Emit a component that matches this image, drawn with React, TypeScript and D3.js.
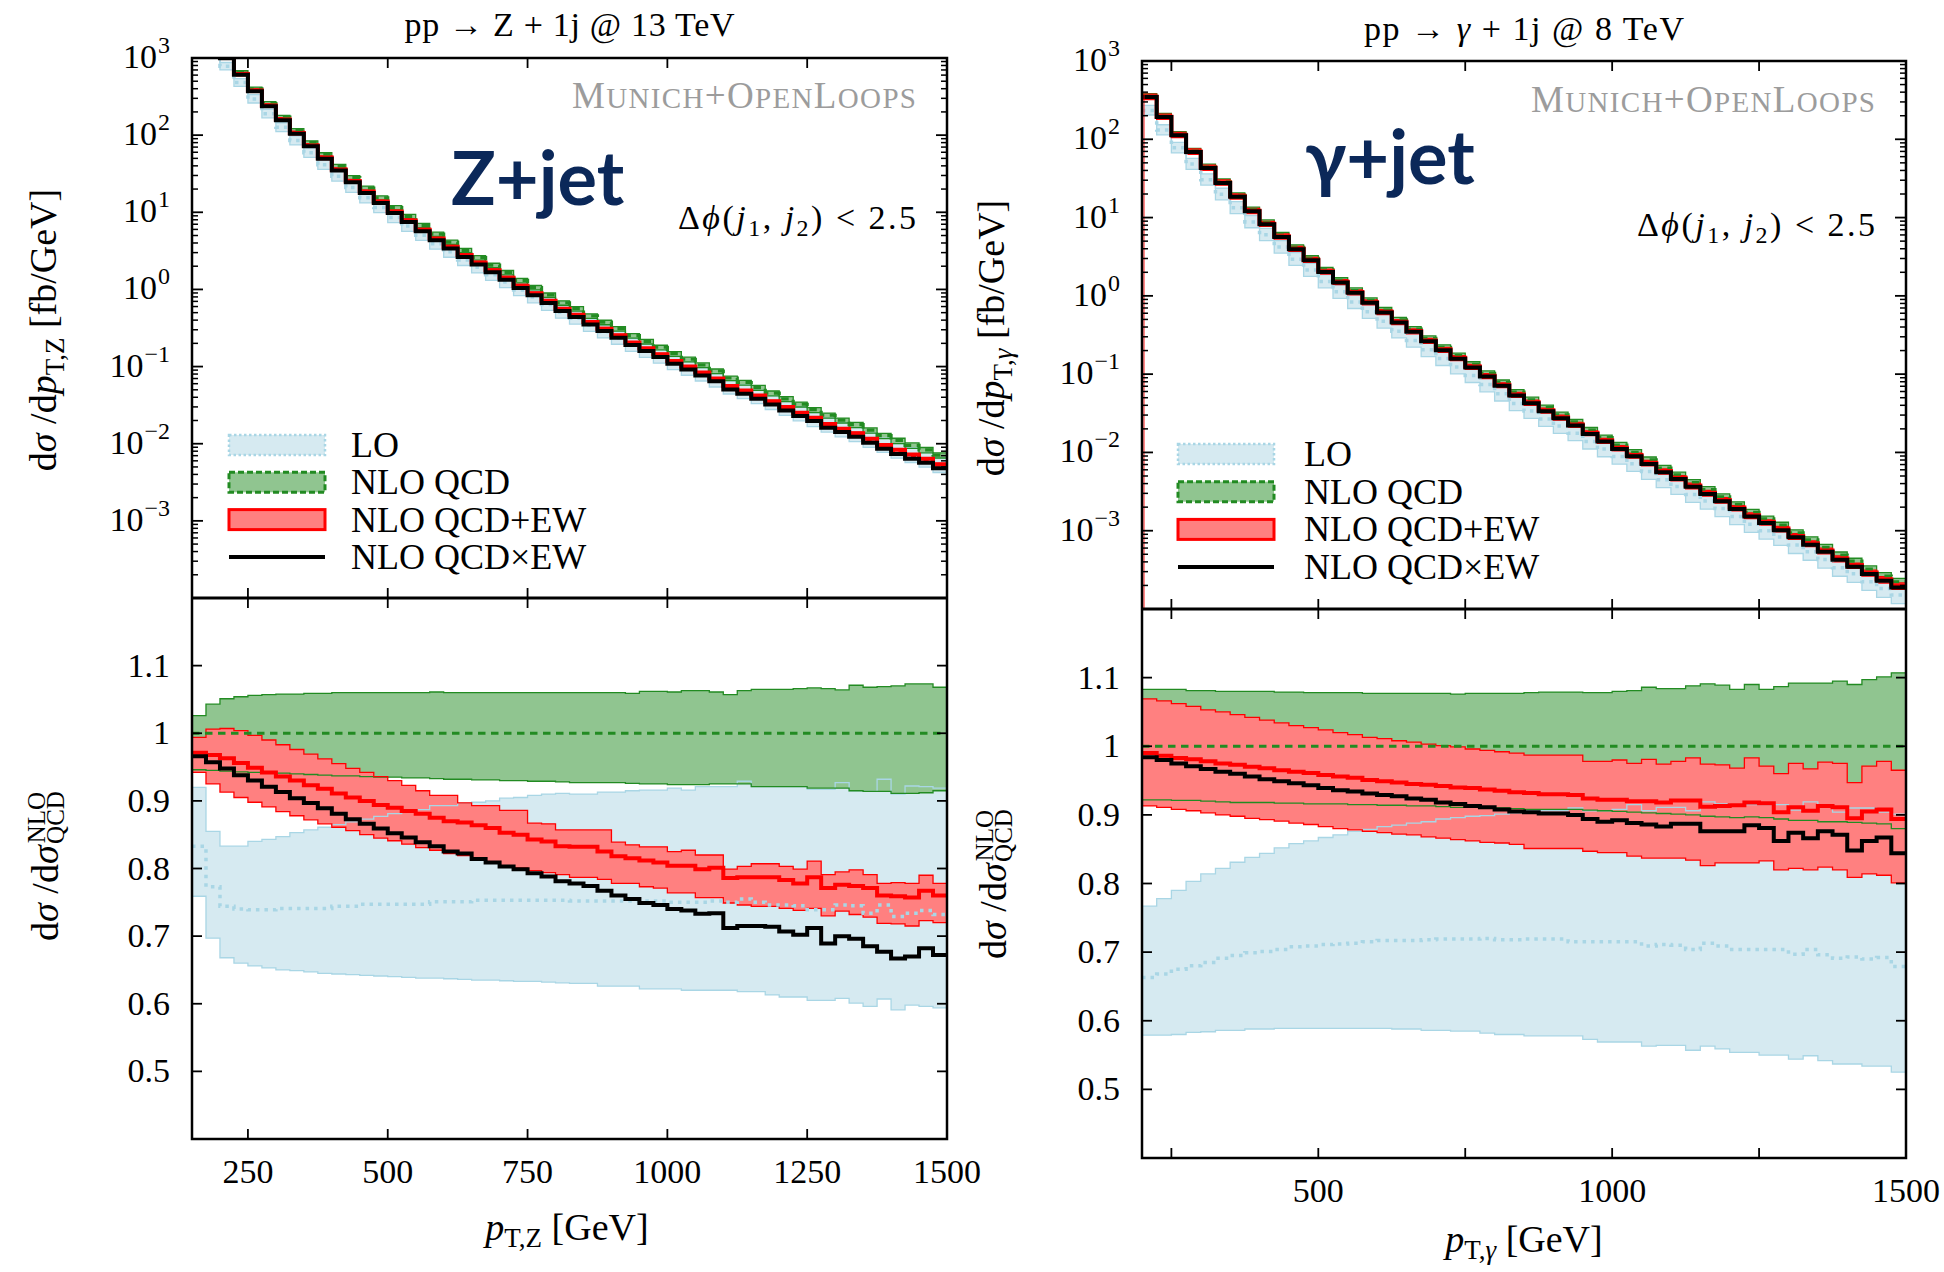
import React from "react";
import * as d3 from "d3";

// ---------- Z + jet @ 13 TeV, 25 GeV bins from 150 to 1500 ----------
const zEdges = d3.range(150, 1525, 25);
// NLO QCD central value [fb/GeV] (first two bins run off the top of the frame)
const zNloQcd = [2600, 1700, 1050, 648, 398, 257, 171, 115, 79.8, 55.8, 39.4, 28.1, 20.6, 15.4, 11.5, 8.87, 6.76, 5.21, 4.10, 3.21, 2.58, 2.06, 1.66, 1.31, 1.06, 0.848, 0.672, 0.563, 0.455, 0.376, 0.311, 0.252, 0.212, 0.178, 0.147, 0.1245, 0.1048, 0.0876, 0.0711, 0.0622, 0.0535, 0.0453, 0.0382, 0.0325, 0.0276, 0.0234, 0.0202, 0.0177, 0.0150, 0.0127, 0.0110, 0.00954, 0.00833, 0.00713];
// everything below is a ratio to NLO QCD
const zQcdUp = [1.026, 1.043, 1.051, 1.054, 1.056, 1.057, 1.058, 1.058, 1.059, 1.059, 1.060, 1.060, 1.060, 1.060, 1.060, 1.060, 1.060, 1.061, 1.060, 1.060, 1.060, 1.060, 1.060, 1.060, 1.060, 1.060, 1.060, 1.060, 1.060, 1.060, 1.060, 1.059, 1.062, 1.062, 1.061, 1.063, 1.063, 1.061, 1.057, 1.063, 1.065, 1.065, 1.065, 1.066, 1.067, 1.066, 1.064, 1.071, 1.068, 1.069, 1.070, 1.073, 1.073, 1.068];
const zQcdLow = [0.946, 0.945, 0.944, 0.943, 0.942, 0.941, 0.941, 0.940, 0.939, 0.938, 0.937, 0.937, 0.936, 0.935, 0.935, 0.934, 0.934, 0.933, 0.932, 0.932, 0.931, 0.931, 0.930, 0.930, 0.929, 0.929, 0.928, 0.927, 0.927, 0.927, 0.927, 0.926, 0.925, 0.925, 0.924, 0.924, 0.924, 0.925, 0.925, 0.925, 0.921, 0.921, 0.921, 0.921, 0.919, 0.919, 0.919, 0.915, 0.914, 0.914, 0.911, 0.911, 0.912, 0.915];
const zLoUp = [0.920, 0.855, 0.833, 0.833, 0.840, 0.843, 0.847, 0.853, 0.857, 0.861, 0.865, 0.869, 0.873, 0.877, 0.881, 0.884, 0.887, 0.893, 0.893, 0.897, 0.898, 0.900, 0.904, 0.905, 0.908, 0.910, 0.911, 0.910, 0.910, 0.913, 0.913, 0.915, 0.916, 0.916, 0.919, 0.916, 0.921, 0.921, 0.921, 0.929, 0.921, 0.921, 0.921, 0.921, 0.917, 0.917, 0.927, 0.915, 0.914, 0.932, 0.910, 0.922, 0.921, 0.919];
const zLoLow = [0.759, 0.697, 0.668, 0.660, 0.656, 0.653, 0.650, 0.649, 0.647, 0.645, 0.644, 0.643, 0.642, 0.641, 0.640, 0.639, 0.638, 0.638, 0.637, 0.636, 0.635, 0.635, 0.634, 0.633, 0.633, 0.632, 0.631, 0.630, 0.630, 0.626, 0.626, 0.626, 0.622, 0.622, 0.622, 0.620, 0.620, 0.620, 0.620, 0.618, 0.618, 0.613, 0.610, 0.610, 0.605, 0.605, 0.608, 0.601, 0.596, 0.607, 0.591, 0.598, 0.596, 0.594];
const zLoCen = [0.833, 0.773, 0.744, 0.740, 0.739, 0.739, 0.741, 0.741, 0.741, 0.741, 0.744, 0.744, 0.747, 0.747, 0.747, 0.747, 0.747, 0.751, 0.751, 0.751, 0.753, 0.753, 0.753, 0.753, 0.753, 0.753, 0.753, 0.752, 0.752, 0.752, 0.752, 0.752, 0.752, 0.752, 0.750, 0.750, 0.750, 0.752, 0.750, 0.755, 0.750, 0.746, 0.746, 0.745, 0.739, 0.739, 0.746, 0.745, 0.734, 0.746, 0.729, 0.734, 0.738, 0.732];
const zAddUp = [0.994, 1.006, 1.007, 1.004, 0.997, 0.990, 0.983, 0.976, 0.969, 0.962, 0.955, 0.948, 0.942, 0.936, 0.930, 0.923, 0.915, 0.908, 0.908, 0.897, 0.893, 0.893, 0.886, 0.886, 0.867, 0.866, 0.857, 0.857, 0.857, 0.857, 0.839, 0.835, 0.832, 0.832, 0.825, 0.827, 0.820, 0.820, 0.799, 0.803, 0.807, 0.807, 0.803, 0.799, 0.811, 0.791, 0.795, 0.798, 0.791, 0.778, 0.779, 0.778, 0.790, 0.778];
const zAddCen = [0.971, 0.968, 0.963, 0.956, 0.949, 0.942, 0.936, 0.930, 0.923, 0.918, 0.911, 0.905, 0.900, 0.894, 0.890, 0.885, 0.881, 0.875, 0.870, 0.868, 0.864, 0.860, 0.853, 0.850, 0.843, 0.840, 0.833, 0.832, 0.832, 0.825, 0.818, 0.815, 0.812, 0.809, 0.804, 0.804, 0.799, 0.801, 0.786, 0.787, 0.787, 0.787, 0.783, 0.778, 0.787, 0.771, 0.776, 0.774, 0.771, 0.760, 0.759, 0.757, 0.767, 0.760];
const zAddLow = [0.942, 0.925, 0.913, 0.905, 0.898, 0.891, 0.884, 0.878, 0.872, 0.866, 0.861, 0.856, 0.850, 0.845, 0.841, 0.836, 0.831, 0.827, 0.822, 0.819, 0.815, 0.809, 0.803, 0.801, 0.797, 0.794, 0.791, 0.787, 0.787, 0.784, 0.778, 0.778, 0.773, 0.771, 0.764, 0.764, 0.757, 0.757, 0.749, 0.746, 0.744, 0.744, 0.741, 0.738, 0.741, 0.730, 0.737, 0.732, 0.728, 0.719, 0.718, 0.715, 0.723, 0.720];
const zMult = [0.966, 0.957, 0.948, 0.938, 0.930, 0.921, 0.913, 0.904, 0.897, 0.889, 0.881, 0.873, 0.866, 0.859, 0.852, 0.846, 0.839, 0.833, 0.825, 0.822, 0.814, 0.809, 0.803, 0.799, 0.793, 0.788, 0.781, 0.778, 0.774, 0.767, 0.760, 0.755, 0.749, 0.746, 0.740, 0.738, 0.733, 0.734, 0.712, 0.715, 0.715, 0.714, 0.707, 0.702, 0.712, 0.689, 0.700, 0.696, 0.685, 0.677, 0.667, 0.670, 0.682, 0.672];

// ---------- gamma + jet @ 8 TeV, 25 GeV bins from 200 to 1500 ----------
const gEdges = d3.range(200, 1525, 25);
const gNloQcd = [353, 197, 115.4, 71.0, 44.5, 28.8, 19.2, 12.6, 8.63, 5.97, 4.16, 3.02, 2.15, 1.58, 1.17, 0.874, 0.659, 0.493, 0.376, 0.286, 0.220, 0.172, 0.1336, 0.1021, 0.0782, 0.0589, 0.0471, 0.0373, 0.0303, 0.0245, 0.0193, 0.01547, 0.01243, 0.01006, 0.00805, 0.00631, 0.00516, 0.00412, 0.00336, 0.00271, 0.00216, 0.00172, 0.00142, 0.00118, 0.000941, 0.000764, 0.000614, 0.000488, 0.000408, 0.000324, 0.000264, 0.000223];
const gQcdUp = [1.083, 1.083, 1.083, 1.081, 1.081, 1.080, 1.080, 1.080, 1.080, 1.079, 1.079, 1.078, 1.078, 1.078, 1.078, 1.077, 1.077, 1.077, 1.077, 1.077, 1.077, 1.076, 1.077, 1.077, 1.077, 1.077, 1.078, 1.079, 1.079, 1.079, 1.078, 1.078, 1.080, 1.081, 1.086, 1.084, 1.084, 1.088, 1.091, 1.089, 1.083, 1.090, 1.083, 1.087, 1.092, 1.092, 1.092, 1.095, 1.090, 1.097, 1.101, 1.107];
const gQcdLow = [0.922, 0.922, 0.921, 0.921, 0.920, 0.919, 0.918, 0.918, 0.918, 0.917, 0.917, 0.916, 0.916, 0.916, 0.915, 0.915, 0.914, 0.914, 0.913, 0.913, 0.912, 0.911, 0.911, 0.910, 0.910, 0.909, 0.908, 0.908, 0.908, 0.908, 0.907, 0.906, 0.905, 0.904, 0.903, 0.902, 0.901, 0.900, 0.898, 0.897, 0.896, 0.897, 0.896, 0.894, 0.892, 0.892, 0.890, 0.890, 0.889, 0.888, 0.887, 0.880];
const gLoUp = [0.767, 0.778, 0.790, 0.803, 0.814, 0.822, 0.831, 0.838, 0.844, 0.852, 0.858, 0.862, 0.867, 0.871, 0.876, 0.879, 0.883, 0.885, 0.888, 0.890, 0.894, 0.896, 0.898, 0.899, 0.901, 0.903, 0.906, 0.906, 0.906, 0.910, 0.906, 0.906, 0.908, 0.915, 0.906, 0.911, 0.911, 0.906, 0.919, 0.916, 0.915, 0.915, 0.915, 0.915, 0.907, 0.919, 0.911, 0.904, 0.910, 0.910, 0.904, 0.901];
const gLoLow = [0.579, 0.579, 0.580, 0.583, 0.584, 0.586, 0.586, 0.588, 0.588, 0.589, 0.589, 0.589, 0.589, 0.589, 0.589, 0.589, 0.589, 0.588, 0.588, 0.586, 0.586, 0.585, 0.585, 0.582, 0.580, 0.580, 0.578, 0.578, 0.578, 0.578, 0.573, 0.569, 0.569, 0.569, 0.563, 0.564, 0.564, 0.557, 0.563, 0.559, 0.554, 0.554, 0.550, 0.550, 0.544, 0.549, 0.542, 0.537, 0.537, 0.534, 0.534, 0.525];
const gLoCen = [0.663, 0.668, 0.675, 0.680, 0.685, 0.691, 0.695, 0.699, 0.701, 0.704, 0.708, 0.709, 0.711, 0.712, 0.713, 0.715, 0.717, 0.717, 0.717, 0.718, 0.719, 0.719, 0.719, 0.720, 0.718, 0.718, 0.719, 0.719, 0.719, 0.715, 0.715, 0.715, 0.715, 0.715, 0.709, 0.711, 0.710, 0.704, 0.713, 0.709, 0.704, 0.704, 0.704, 0.704, 0.697, 0.704, 0.696, 0.691, 0.693, 0.690, 0.692, 0.679];
const gAddUp = [1.069, 1.066, 1.062, 1.058, 1.053, 1.050, 1.046, 1.042, 1.038, 1.034, 1.030, 1.027, 1.024, 1.020, 1.017, 1.013, 1.011, 1.008, 1.006, 1.003, 1.001, 0.999, 0.996, 0.994, 0.992, 0.990, 0.987, 0.987, 0.987, 0.987, 0.978, 0.978, 0.980, 0.975, 0.981, 0.974, 0.978, 0.983, 0.974, 0.973, 0.968, 0.983, 0.971, 0.960, 0.975, 0.967, 0.977, 0.975, 0.947, 0.971, 0.978, 0.965];
const gAddCen = [0.990, 0.986, 0.983, 0.981, 0.978, 0.975, 0.973, 0.970, 0.968, 0.965, 0.963, 0.961, 0.958, 0.956, 0.954, 0.951, 0.949, 0.947, 0.945, 0.944, 0.942, 0.940, 0.939, 0.937, 0.935, 0.933, 0.932, 0.930, 0.930, 0.929, 0.924, 0.922, 0.922, 0.920, 0.920, 0.918, 0.921, 0.921, 0.912, 0.913, 0.914, 0.918, 0.917, 0.904, 0.911, 0.906, 0.913, 0.911, 0.895, 0.905, 0.908, 0.894];
const gAddLow = [0.913, 0.911, 0.908, 0.906, 0.903, 0.900, 0.898, 0.895, 0.893, 0.891, 0.888, 0.886, 0.883, 0.880, 0.878, 0.876, 0.874, 0.872, 0.871, 0.868, 0.866, 0.864, 0.862, 0.860, 0.859, 0.857, 0.851, 0.851, 0.851, 0.851, 0.847, 0.845, 0.845, 0.840, 0.837, 0.837, 0.837, 0.834, 0.826, 0.830, 0.830, 0.830, 0.833, 0.820, 0.822, 0.820, 0.824, 0.820, 0.809, 0.814, 0.812, 0.801];
const gMult = [0.984, 0.980, 0.975, 0.971, 0.967, 0.963, 0.960, 0.956, 0.952, 0.949, 0.946, 0.943, 0.939, 0.936, 0.934, 0.931, 0.929, 0.927, 0.924, 0.922, 0.918, 0.916, 0.913, 0.911, 0.908, 0.905, 0.904, 0.902, 0.902, 0.900, 0.894, 0.890, 0.892, 0.888, 0.886, 0.883, 0.887, 0.887, 0.876, 0.876, 0.876, 0.885, 0.881, 0.862, 0.874, 0.866, 0.876, 0.871, 0.848, 0.862, 0.867, 0.844];

// axis ticks
const zXTicks = [250, 500, 750, 1000, 1250, 1500];
const zXLabels = [250, 500, 750, 1000, 1250, 1500];
const gXTicks = [250, 500, 750, 1000, 1250, 1500];
const gXLabels = [500, 1000, 1500];
const ratioTicks = [0.5, 0.6, 0.7, 0.8, 0.9, 1, 1.1];
const logExps = [-3, -2, -1, 0, 1, 2, 3];
const legendNames = ["LO", "NLO QCD", "NLO QCD+EW", "NLO QCD×EW"];

const SERIF = '"Liberation Serif", "Times New Roman", "DejaVu Serif", serif';
const LO_FILL = "#d6eaf1";
const LO_LINE = "#a9d6e5";
const QCD_FILL = "#90c590";
const QCD_LINE = "#228b22";
const ADD_FILL = "#ff8080";
const ADD_LINE = "#ff0000";

function stepPts(edges: number[], vals: number[]): [number, number][] {
  const pts: [number, number][] = vals.map((v, i) => [edges[i], v]);
  pts.push([edges[vals.length], vals[vals.length - 1]]);
  return pts;
}

function bandPts(edges: number[], lo: number[], hi: number[]): [number, number, number][] {
  const pts: [number, number, number][] = lo.map((v, i) => [edges[i], v, hi[i]]);
  pts.push([edges[lo.length], lo[lo.length - 1], hi[hi.length - 1]]);
  return pts;
}

type Series = {
  loLow: number[]; loCen: number[]; loUp: number[];
  qcdLow: number[]; qcdCen: number[]; qcdUp: number[];
  addLow: number[]; addCen: number[]; addUp: number[];
  mult: number[];
};

function Layers({ edges, s, x, y, clip }: { edges: number[]; s: Series; x: any; y: any; clip: string }) {
  const line = d3.line<[number, number]>().x(d => x(d[0])).y(d => y(d[1])).curve(d3.curveStepAfter);
  const area = d3.area<[number, number, number]>().x(d => x(d[0])).y0(d => y(d[1])).y1(d => y(d[2])).curve(d3.curveStepAfter);
  const thin = (vals: number[], c: string) => (
    <path d={line(stepPts(edges, vals)) || ""} fill="none" stroke={c} strokeWidth={1.3} />
  );
  return (
    <g clipPath={`url(#${clip})`}>
      <path d={area(bandPts(edges, s.loLow, s.loUp)) || ""} fill={LO_FILL} />
      <path d={area(bandPts(edges, s.qcdLow, s.qcdUp)) || ""} fill={QCD_FILL} />
      <path d={area(bandPts(edges, s.addLow, s.addUp)) || ""} fill={ADD_FILL} />
      {thin(s.loLow, LO_LINE)}
      {thin(s.loUp, LO_LINE)}
      {thin(s.qcdLow, QCD_LINE)}
      {thin(s.qcdUp, QCD_LINE)}
      {thin(s.addLow, ADD_LINE)}
      {thin(s.addUp, ADD_LINE)}
      <path d={line(stepPts(edges, s.loCen)) || ""} fill="none" stroke={LO_LINE} strokeWidth={3.5} strokeDasharray="3.5 5" />
      <path d={line(stepPts(edges, s.qcdCen)) || ""} fill="none" stroke={QCD_LINE} strokeWidth={3.2} strokeDasharray="7.5 5.5" />
      <path d={line(stepPts(edges, s.addCen)) || ""} fill="none" stroke={ADD_LINE} strokeWidth={4} />
      <path d={line(stepPts(edges, s.mult)) || ""} fill="none" stroke="#000" strokeWidth={4} />
    </g>
  );
}

type PanelProps = {
  id: string;
  edges: number[]; nlo: number[];
  loLow: number[]; loCen: number[]; loUp: number[];
  qcdLow: number[]; qcdUp: number[];
  addLow: number[]; addCen: number[]; addUp: number[];
  mult: number[];
  x0: number; x1: number; yTop: number; yMid: number; yBot: number;
  xDomain: [number, number]; xTicks: number[]; xLabels: number[];
  title: React.ReactNode; titleY: number; titleLen: number;
  boson: string; bosonX: number; bosonY: number;
  munichY: number; cutY: number;
  yLabelX: number; yLabelY: number; rLabelY: number;
  xLabelX: number; xLabelY: number; sub: React.ReactNode;
  legX: number; legY: number; legGap: number; legTextX: number;
  edgeLine: boolean;
};

function Panel(p: PanelProps) {
  const x = d3.scaleLinear().domain(p.xDomain).range([p.x0, p.x1]);
  const yT = d3.scaleLog().domain([1e-4, 1e3]).range([p.yMid, p.yTop]);
  const yR = d3.scaleLinear().domain([0.4, 1.2]).range([p.yBot, p.yMid]);

  const ones = p.nlo.map(() => 1);
  const ratio: Series = {
    loLow: p.loLow, loCen: p.loCen, loUp: p.loUp,
    qcdLow: p.qcdLow, qcdCen: ones, qcdUp: p.qcdUp,
    addLow: p.addLow, addCen: p.addCen, addUp: p.addUp, mult: p.mult,
  };
  const abs = (r: number[]) => r.map((v, i) => v * p.nlo[i]);
  const top: Series = {
    loLow: abs(p.loLow), loCen: abs(p.loCen), loUp: abs(p.loUp),
    qcdLow: abs(p.qcdLow), qcdCen: p.nlo, qcdUp: abs(p.qcdUp),
    addLow: abs(p.addLow), addCen: abs(p.addCen), addUp: abs(p.addUp), mult: abs(p.mult),
  };

  const minor: number[] = [];
  for (let e = -4; e < 3; e++) for (let m = 2; m < 10; m++) minor.push(m * Math.pow(10, e));
  const W = p.x1 - p.x0;

  return (
    <g fontFamily={SERIF}>
      <defs>
        <clipPath id={`${p.id}-top`}><rect x={p.x0} y={p.yTop} width={W} height={p.yMid - p.yTop} /></clipPath>
        <clipPath id={`${p.id}-rat`}><rect x={p.x0} y={p.yMid} width={W} height={p.yBot - p.yMid} /></clipPath>
      </defs>

      <Layers edges={p.edges} s={top} x={x} y={yT} clip={`${p.id}-top`} />
      <Layers edges={p.edges} s={ratio} x={x} y={yR} clip={`${p.id}-rat`} />
      {p.edgeLine && (
        <line x1={p.x0 + 2} x2={p.x0 + 2} y1={p.yMid} y2={yT(top.addUp[0])} stroke={ADD_LINE} strokeWidth={1.3} opacity={0.7} />
      )}

      {/* log y ticks */}
      {minor.map(v => (
        <g key={`mn${v}`} stroke="#000" strokeWidth={1.5}>
          <line x1={p.x0} x2={p.x0 + 6} y1={yT(v)} y2={yT(v)} />
          <line x1={p.x1} x2={p.x1 - 6} y1={yT(v)} y2={yT(v)} />
        </g>
      ))}
      {logExps.map(e => (
        <g key={`lg${e}`}>
          <line x1={p.x0} x2={p.x0 + 11} y1={yT(Math.pow(10, e))} y2={yT(Math.pow(10, e))} stroke="#000" strokeWidth={1.8} />
          <line x1={p.x1} x2={p.x1 - 11} y1={yT(Math.pow(10, e))} y2={yT(Math.pow(10, e))} stroke="#000" strokeWidth={1.8} />
          <text x={p.x0 - 22} y={yT(Math.pow(10, e)) + 10} textAnchor="end" fontSize={34}>
            10<tspan dx={1} dy={-15} fontSize={24}>{e < 0 ? `−${-e}` : `${e}`}</tspan>
          </text>
        </g>
      ))}

      {/* ratio y ticks */}
      {ratioTicks.map(v => (
        <g key={`rt${v}`}>
          <line x1={p.x0} x2={p.x0 + 10} y1={yR(v)} y2={yR(v)} stroke="#000" strokeWidth={1.8} />
          <line x1={p.x1} x2={p.x1 - 10} y1={yR(v)} y2={yR(v)} stroke="#000" strokeWidth={1.8} />
          <text x={p.x0 - 22} y={yR(v) + 11} textAnchor="end" fontSize={34}>{d3.format("")(v)}</text>
        </g>
      ))}

      {/* x ticks on every horizontal frame line */}
      {p.xTicks.map(v => (
        <g key={`xt${v}`} stroke="#000" strokeWidth={1.8}>
          <line x1={x(v)} x2={x(v)} y1={p.yTop} y2={p.yTop + 10} />
          <line x1={x(v)} x2={x(v)} y1={p.yMid - 10} y2={p.yMid + 10} />
          <line x1={x(v)} x2={x(v)} y1={p.yBot} y2={p.yBot - 10} />
        </g>
      ))}
      {p.xLabels.map(v => (
        <text key={`xl${v}`} x={x(v)} y={p.yBot + 44} textAnchor="middle" fontSize={34}>{v}</text>
      ))}

      {/* frames */}
      <rect x={p.x0} y={p.yTop} width={W} height={p.yBot - p.yTop} fill="none" stroke="#000" strokeWidth={2.5} />
      <line x1={p.x0} x2={p.x1} y1={p.yMid} y2={p.yMid} stroke="#000" strokeWidth={3} />

      {/* titles and annotations */}
      <text x={(p.x0 + p.x1) / 2 - p.titleLen / 2} y={p.titleY} fontSize={34} textLength={p.titleLen} lengthAdjust="spacing">{p.title}</text>
      <text x={p.x1 - 31} y={p.munichY} textAnchor="end" fill="#9c9c9c" fontSize={37} textLength={344} lengthAdjust="spacing">
        M<tspan fontSize={29}>UNICH</tspan>+O<tspan fontSize={29}>PEN</tspan>L<tspan fontSize={29}>OOPS</tspan>
      </text>
      <text x={p.bosonX} y={p.bosonY} fontFamily="Lato, 'Open Sans', sans-serif" fontWeight={700} fontSize={74} fill="#0b2859">{p.boson}</text>
      <text x={p.x1 - 31} y={p.cutY} textAnchor="end" fontSize={34} textLength={238} lengthAdjust="spacing">
        Δ<tspan fontStyle="italic">ϕ</tspan>(<tspan fontStyle="italic">j</tspan><tspan fontSize={24} dy={7}>1</tspan><tspan dy={-7}>, </tspan>
        <tspan fontStyle="italic">j</tspan><tspan fontSize={24} dy={7}>2</tspan><tspan dy={-7}>) &lt; 2.5</tspan>
      </text>

      {/* axis titles */}
      <g transform={`translate(${p.yLabelX},${p.yLabelY}) rotate(-90)`}>
        <text textAnchor="middle" fontSize={38}>
          d<tspan fontStyle="italic">σ</tspan> /d<tspan fontStyle="italic">p</tspan>
          <tspan fontSize={27} dy={8}>{p.sub}</tspan><tspan dy={-8}> [fb/GeV]</tspan>
        </text>
      </g>
      <g transform={`translate(${p.yLabelX + 2},${p.rLabelY}) rotate(-90)`}>
        <text textAnchor="middle" fontSize={38}>
          d<tspan fontStyle="italic">σ</tspan> /d<tspan fontStyle="italic">σ</tspan>
          <tspan fontSize={25} dx={2} dy={-13}>NLO</tspan><tspan fontSize={25} dx={-52} dy={19}>QCD</tspan>
        </text>
      </g>
      <text x={p.xLabelX} y={p.xLabelY} textAnchor="middle" fontSize={38}>
        <tspan fontStyle="italic">p</tspan><tspan fontSize={27} dy={7}>{p.sub}</tspan><tspan dy={-7}> [GeV]</tspan>
      </text>

      {/* legend */}
      {legendNames.map((name, i) => {
        const cy = p.legY + i * p.legGap;
        return (
          <g key={name}>
            {i === 0 && <rect x={p.legX} y={cy - 10} width={96} height={20} fill={LO_FILL} stroke={LO_LINE} strokeWidth={2.5} strokeDasharray="2.5 2.5" />}
            {i === 1 && <rect x={p.legX} y={cy - 10} width={96} height={20} fill={QCD_FILL} stroke={QCD_LINE} strokeWidth={3} strokeDasharray="6 3" />}
            {i === 2 && <rect x={p.legX} y={cy - 10} width={96} height={20} fill={ADD_FILL} stroke={ADD_LINE} strokeWidth={3} />}
            {i === 3 && <line x1={p.legX} x2={p.legX + 96} y1={cy} y2={cy} stroke="#000" strokeWidth={4} />}
            <text x={p.legTextX} y={cy + 12} fontSize={36}>{name}</text>
          </g>
        );
      })}
    </g>
  );
}

export default function App() {
  return (
    <div style={{ position: "absolute", left: 0, top: 0 }}>
      <svg width={1944} height={1272} style={{ display: "block", background: "#fff" }}>
        <Panel
          id="zj" edges={zEdges} nlo={zNloQcd}
          loLow={zLoLow} loCen={zLoCen} loUp={zLoUp}
          qcdLow={zQcdLow} qcdUp={zQcdUp}
          addLow={zAddLow} addCen={zAddCen} addUp={zAddUp} mult={zMult}
          x0={192} x1={947} yTop={58} yMid={598} yBot={1139}
          xDomain={[150, 1500]} xTicks={zXTicks} xLabels={zXLabels}
          title={<>pp → Z + 1j @ 13 TeV</>} titleY={36} titleLen={330}
          boson="Z+jet" bosonX={451} bosonY={205}
          munichY={108} cutY={229}
          yLabelX={56} yLabelY={330} rLabelY={866}
          xLabelX={567} xLabelY={1240} sub="T,Z"
          legX={229} legY={445} legGap={37.3} legTextX={351}
          edgeLine={false}
        />
        <Panel
          id="gj" edges={gEdges} nlo={gNloQcd}
          loLow={gLoLow} loCen={gLoCen} loUp={gLoUp}
          qcdLow={gQcdLow} qcdUp={gQcdUp}
          addLow={gAddLow} addCen={gAddCen} addUp={gAddUp} mult={gMult}
          x0={1142} x1={1906} yTop={61} yMid={609} yBot={1158}
          xDomain={[200, 1500]} xTicks={gXTicks} xLabels={gXLabels}
          title={<>pp → <tspan fontStyle="italic">γ</tspan> + 1j @ 8 TeV</>} titleY={40} titleLen={320}
          boson="γ+jet" bosonX={1305} bosonY={184}
          munichY={112} cutY={236}
          yLabelX={1004} yLabelY={338} rLabelY={884}
          xLabelX={1524} xLabelY={1252} sub={<>T,<tspan fontStyle="italic">γ</tspan></>}
          legX={1178} legY={454} legGap={37.7} legTextX={1304}
          edgeLine={true}
        />
      </svg>
    </div>
  );
}
